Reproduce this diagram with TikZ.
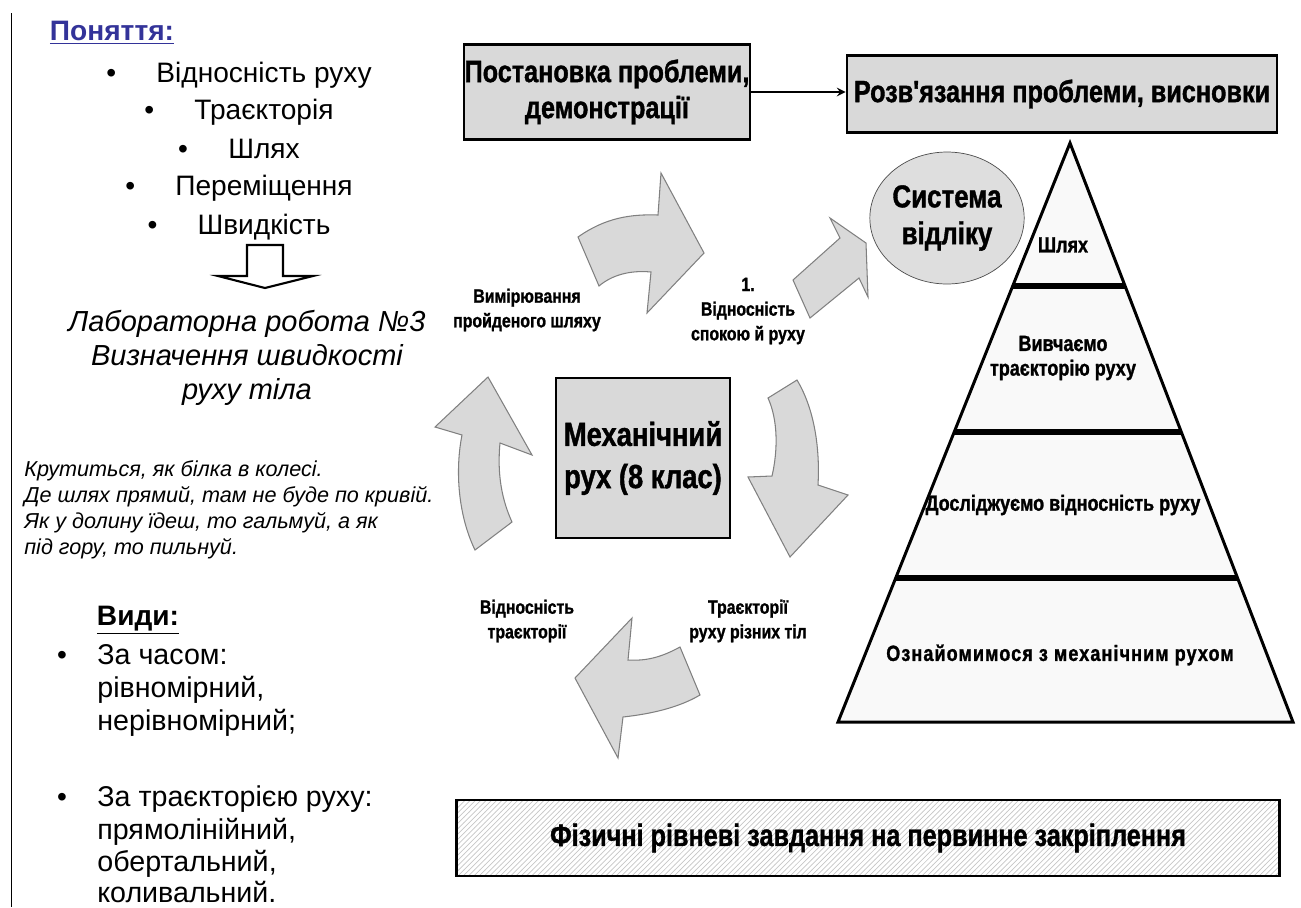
\documentclass[tikz,border=0pt]{standalone}
\usepackage{fontspec}
\setmainfont{Liberation Sans}
\newfontfamily\narrowb{Liberation Sans}[FakeStretch=0.82, FakeBold=1.2]
\usepackage{tikz}
\usetikzlibrary{positioning, patterns, shapes.geometric, calc}
\definecolor{boxgray}{HTML}{D9D9D9}
\definecolor{ellgray}{HTML}{DEDEDE}
\definecolor{ponblue}{HTML}{333399}

\begin{document}
\begin{tikzpicture}[x=0.02cm, y=-0.02cm,
  box/.style={draw, line width=1.6pt, fill=boxgray, inner sep=0pt, align=center,
    font=\narrowb\bfseries\fontsize{17.5}{20.5}\selectfont},
  lbl/.style={align=center, inner sep=0pt, font=\narrowb\bfseries\fontsize{11}{14}\selectfont},
  pyr/.style={lbl, font=\narrowb\bfseries\fontsize{12.5}{14}\selectfont},
  item/.style={inner sep=0pt, font=\fontsize{16}{19}\selectfont},
  blockarrow/.style={fill=boxgray, draw=gray, line width=0.6pt, line join=miter},
  band/.style={line width=3.4pt}]
\useasboundingbox (0,0) rectangle (1301,907);
\draw (11,13) -- (11,907);

% left column
\node[item, font=\bfseries\fontsize{16}{19}\selectfont, text=ponblue] (pon) at (112,33) {\underline{Поняття:}};
\foreach \txt/\yy/\nm in {Відносність руху/82/c1, Траєкторія/119/c2, Шлях/158/c3, Переміщення/195/c4, Швидкість/234/c5}
{
  \node[item, anchor=base] (\nm) at (264,\yy) {\txt};
  \node[item, base left=0.79cm of \nm] {•};
}
\draw[line width=1.2pt] (247,245) -- (247,276) -- (218,276) -- (265,288) -- (313,276) -- (283,276) -- (283,245) -- cycle;
\node[align=center, inner sep=0pt, font=\itshape\fontsize{16.5}{19.5}\selectfont] (lab) at (247,358)
  {Лабораторна робота №3\\Визначення швидкості\\руху тіла};
\node[align=left, anchor=north west, inner sep=0pt, font=\itshape\fontsize{12.3}{14.8}\selectfont] (prov) at (24,460)
  {Крутиться, як білка в колесі.\\Де шлях прямий, там не буде по кривій.\\Як у долину їдеш, то гальмуй, а як\\під гору, то пильнуй.};
\node[item, font=\bfseries\fontsize{16}{19}\selectfont] (vydy) at (138,620) {\underline{Види:}};
\foreach \txt/\yy/\nm in {За часом:/664/v1, {рівномірний,}/697/v2, {нерівномірний;}/730/v3,
  За траєкторією руху:/806/v4, {прямолінійний,}/839/v5, {обертальний,}/871/v6, {коливальний.}/902/v7}
  \node[item, anchor=base west, font=\fontsize{16.3}{19}\selectfont] (\nm) at (97,\yy) {\txt};
\node[item, anchor=base] at (62,664) {•};
\node[item, anchor=base] at (62,806) {•};

% top boxes
\node[box, minimum width=5.72cm, minimum height=1.9cm] (prob) at (607,92) {Постановка проблеми,\\демонстрації};
\node[box, minimum width=8.6cm, minimum height=1.54cm] (solv) at (1062,94) {Розв'язання проблеми, висновки};
\draw[line width=1.2pt, -stealth] (prob.east) -- (prob.east -| solv.west);

% centre
\node[box, minimum width=3.48cm, minimum height=3.2cm, font=\narrowb\bfseries\fontsize{19}{24}\selectfont] (mech) at (643,458) {Механічний\\рух (8 клас)};
\node[ellipse, draw=black!70, fill=ellgray, minimum width=2.92cm, minimum height=2.64cm, inner sep=0pt, align=center,
  font=\narrowb\bfseries\fontsize{18}{21}\selectfont] (sys) at (947,218) {Система\\відліку};

% block arrows
\draw[blockarrow] (578,237) .. controls (605,218) and (630,214) .. (658,215) -- (661,173) -- (704,253) -- (647,313)
  -- (651,272) .. controls (630,270) and (612,275) .. (599,286) -- cycle;
\draw[blockarrow] (793,280) -- (840,238) -- (830,218) -- (866,243) -- (868,297) -- (859,278) -- (810,318) -- cycle;
\draw[blockarrow] (768,398) .. controls (778,420) and (778,450) .. (772,476) -- (748,477) -- (790,557) -- (848,495)
  -- (818,485) .. controls (820,450) and (815,410) .. (797,380) -- cycle;
\draw[blockarrow] (680,647) .. controls (660,658) and (645,661) .. (628,660) -- (632,618) -- (575,678) -- (618,758)
  -- (623,717) .. controls (650,714) and (678,708) .. (700,695) -- cycle;
\draw[blockarrow] (475,550) .. controls (458,515) and (455,470) .. (462,435) -- (435,427) -- (488,377) -- (532,455)
  -- (500,443) .. controls (497,475) and (502,500) .. (512,522) -- cycle;

\node[lbl] (meas) at (527,310) {Вимірювання\\пройденого шляху};
\node[lbl] (rel) at (748,311) {1.\\Відносність\\спокою й руху};
\node[lbl] (reltr) at (527,621) {Відносність\\траєкторії};
\node[lbl] (traj) at (748,621) {Траєкторії\\руху різних тіл};

% pyramid
\coordinate (apex) at (1070,143);
\coordinate (bl) at (838,722);
\coordinate (br) at (1293,722);
\draw[line width=1.7pt, fill=gray!5] (apex) -- (br) -- (bl) -- cycle;
\foreach \t in {0.247,0.499,0.751}
  \draw[band] ($(apex)!\t!(bl)$) -- ($(apex)!\t!(br)$);
\node[pyr] (p1) at (1063,245) {Шлях};
\node[pyr] (p2) at (1063,358) {Вивчаємо\\траєкторію руху};
\node[pyr] (p3) at (1063,505) {Досліджуємо відносність руху};
\node[pyr, font=\narrowb\bfseries\fontsize{12.5}{14}\selectfont\addfontfeature{LetterSpace=5}] (p4) at (1060,655) {Ознайомимося з механічним рухом};

% bottom box
\node[box, fill=white, pattern=north east lines, pattern color=gray!45, minimum width=16.46cm, minimum height=1.52cm,
  font=\narrowb\bfseries\fontsize{17.5}{20}\selectfont] (task) at (868,838) {Фізичні рівневі завдання на первинне закріплення};
\end{tikzpicture}
\end{document}
